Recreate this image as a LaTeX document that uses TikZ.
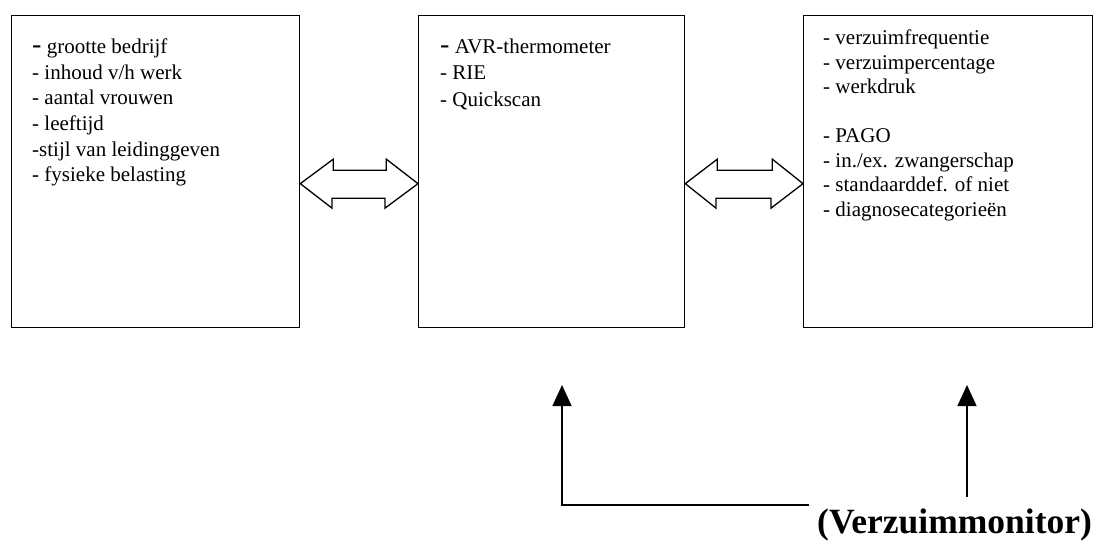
\documentclass[tikz,border=0pt]{standalone}
\usepackage{fontspec}
\setmainfont{Liberation Serif}
\usetikzlibrary{arrows.meta,calc}
\begin{document}
\begin{tikzpicture}[x=1pt,y=-1pt,
  box/.style={draw,line width=1.3pt,minimum width=#1,minimum height=312pt,inner sep=0pt,anchor=north west},
  lst/.style={anchor=base west,inner sep=0pt},
  dbl/.style={draw,line width=1.3pt,line join=miter},
  tri/.style={line width=1.3pt,-{Triangle[width=19pt,length=21pt]}}]
\useasboundingbox (0,0) rectangle (1097,543);
\node[box=288pt] (A) at (11,15) {};
\node[box=266pt] (B) at (418,15) {};
\node[box=289pt] (C) at (803,15) {};
% texts
\node[lst] (ta) at (32,54) {\fontsize{21}{25.5}\selectfont\begin{tabular}[t]{@{}l@{}}{\fontsize{28}{25}\selectfont -}\ grootte bedrijf\\- inhoud v/h werk\\- aantal vrouwen\\- leeftijd\\-stijl van leidinggeven\\- fysieke belasting\end{tabular}};
\node[lst] (tb) at (440,54) {\fontsize{21}{26}\selectfont\begin{tabular}[t]{@{}l@{}}{\fontsize{28}{25}\selectfont -}\ AVR-thermometer\\- RIE\\- Quickscan\end{tabular}};
\node[lst] (tc) at (823,45) {\fontsize{21}{24.5}\selectfont\begin{tabular}[t]{@{}l@{}}- verzuimfrequentie\\- verzuimpercentage\\- werkdruk\\ \\- PAGO\\- in./ex. zwangerschap\\- standaarddef. of niet\\- diagnosecategorieën\end{tabular}};
% double arrows
\draw[dbl] ($(A.east)+(0,12)$) -- ++(33,-24.5) -- ++(0,11) -- ++(53,0) -- ++(0,-11)
  -- ($(B.west)+(0,12)$) -- ++(-33,24.5) -- ++(0,-10) -- ++(-53,0) -- ++(0,10) -- cycle;
\draw[dbl] ($(B.east)+(0,12)$) -- ++(32,-24.5) -- ++(0,11) -- ++(55,0) -- ++(0,-11)
  -- ($(C.west)+(0,12)$) -- ++(-32,24.5) -- ++(0,-10) -- ++(-55,0) -- ++(0,10) -- cycle;
% monitor
\node[anchor=base west,inner sep=0pt,font=\fontsize{35.5}{40}\selectfont\bfseries] (V) at (817,533) {(Verzuimmonitor)};
\coordinate (t1) at (562,385);
\coordinate (t2) at (967,385);
\coordinate (c1) at (809,505);
\coordinate (c2) at (967,497);
\draw[tri] (c1) -| (t1);
\draw[tri] (c2) -- (t2);
\end{tikzpicture}
\end{document}
